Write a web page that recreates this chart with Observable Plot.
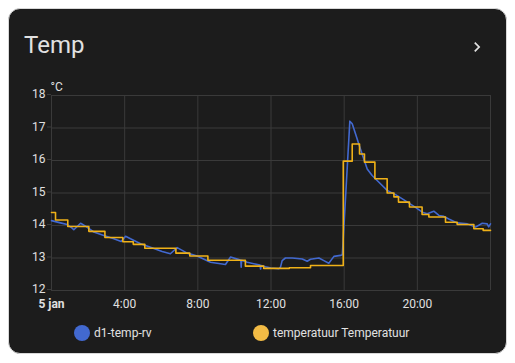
<!DOCTYPE html>
<html>
<head>
<meta charset="utf-8">
<script src="https://cdn.jsdelivr.net/npm/d3@7"></script>
<script src="https://cdn.jsdelivr.net/npm/@observablehq/plot@0.6"></script>
<style>
  html, body { margin: 0; padding: 0; background: #ffffff; width: 515px; height: 363px; overflow: hidden; font-family: Roboto, "Noto Sans", sans-serif; }
  #card { position: absolute; left: 8px; top: 8px; width: 499px; height: 346px; box-sizing: border-box; background: #1c1c1c; border: 1px solid #d8d8d8; border-radius: 12px; }
  #title { position: absolute; left: 24px; top: 33px; font-size: 24px; line-height: 24px; color: #e1e1e1; font-weight: 400; }
  #chev { position: absolute; left: 467px; top: 37px; width: 20px; height: 20px; }
  #chart { position: absolute; left: 8px; top: 70px; }
  .leg { position: absolute; top: 325px; display: flex; align-items: center; font-size: 12px; color: #e1e1e1; }
  .dot { width: 16px; height: 16px; border-radius: 50%; margin-right: 4px; }
</style>
</head>
<body>
<div id="card"></div>
<div id="title">Temp</div>
<svg id="chev" viewBox="0 0 24 24"><path fill="#e1e1e1" d="M8.59,16.58L13.17,12L8.59,7.41L10,6L16,12L10,18L8.59,16.58Z"/></svg>
<div id="chart"></div>
<div id="legend"></div>
<script>
// ---- data ----
const seriesNames = ["d1-temp-rv", "temperatuur Temperatuur"];
const seriesColors = ["#4269d0", "#efb118"];
const legendColors = ["#4269d0", "#f2bb45"];

const blueHours = [0, 0.49, 0.86, 1.13, 1.22, 1.59, 1.86, 2.31, 2.86, 3.41, 3.81, 4.05, 4.32, 4.87, 5.41, 6.05, 6.5, 6.87, 7.42, 7.96, 8.69, 9.51, 9.79, 10.24, 10.35, 10.37, 10.39, 10.7, 11.4, 11.43, 11.46, 11.7, 12.0, 12.43, 12.52, 12.61, 12.79, 13.16, 13.71, 13.98, 14.16, 14.62, 14.89, 15.16, 15.44, 15.8, 15.9, 16.31, 16.44, 16.62, 16.8, 16.98, 17.26, 17.53, 17.9, 18.35, 18.81, 19.27, 19.9, 20.27, 20.54, 20.9, 21.18, 21.45, 21.72, 22.18, 22.73, 23.18, 23.55, 23.82, 23.9, 24];
const blueTemps = [14.15, 14.08, 14.03, 13.92, 13.87, 14.07, 13.98, 13.8, 13.69, 13.59, 13.51, 13.67, 13.59, 13.44, 13.33, 13.2, 13.13, 13.32, 13.15, 13.06, 12.87, 12.8, 13.03, 12.95, 12.93, 12.72, 12.93, 12.87, 12.78, 12.66, 12.77, 12.73, 12.69, 12.67, 12.72, 12.92, 13.0, 13.0, 12.97, 12.9, 12.96, 13.0, 12.92, 12.84, 13.05, 13.08, 13.1, 17.21, 17.13, 16.82, 16.51, 16.2, 15.74, 15.54, 15.33, 15.08, 14.95, 14.79, 14.56, 14.41, 14.36, 14.44, 14.31, 14.28, 14.2, 14.08, 14.05, 13.95, 14.07, 14.05, 13.96, 14.05];

const yellowHours = [0, 0.22, 0.89, 2.04, 2.92, 3.9, 4.47, 5.1, 6.8, 7.56, 8.55, 10.6, 11.6, 13.0, 14.16, 15.95, 16.44, 16.84, 17.11, 17.68, 18.35, 18.72, 18.97, 19.57, 20.26, 20.63, 21.54, 22.18, 23.09, 23.6, 24];
const yellowTemps = [14.4, 14.17, 13.97, 13.82, 13.63, 13.5, 13.42, 13.3, 13.15, 13.06, 12.93, 12.75, 12.68, 12.7, 12.77, 15.98, 16.51, 16.2, 15.95, 15.44, 15.0, 14.88, 14.72, 14.57, 14.34, 14.26, 14.1, 14.03, 13.9, 13.85, 13.85];

const xTicks = [0, 4, 8, 12, 16, 20];
const xTickLabels = ["5 jan", "4:00", "8:00", "12:00", "16:00", "20:00"];
const xGrid = [0, 4, 8, 12, 16, 20, 24];
const yTicks = [12, 13, 14, 15, 16, 17, 18];
const yUnit = "°C";

// ---- build ----
const blue = blueHours.map((h, i) => ({h, t: blueTemps[i]}));
const yellow = yellowHours.map((h, i) => ({h, t: yellowTemps[i]}));
const gridColor = "#3a3a3a";
const textColor = "#e0e0e0";

const chart = Plot.plot({
  width: 499,
  height: 250,
  marginLeft: 43,
  marginRight: 17,
  marginTop: 25,
  marginBottom: 30,
  style: {background: "transparent", color: textColor, fontFamily: "Roboto, sans-serif", fontSize: "12px"},
  x: {domain: [0, 24]},
  y: {domain: [12, 18]},
  marks: [
    Plot.gridX(xGrid, {stroke: gridColor, strokeOpacity: 1}),
    Plot.gridY(yTicks, {stroke: gridColor, strokeOpacity: 1}),
    Plot.axisX(xTicks, {tickSize: 0, tickPadding: 9, label: null, fill: textColor, tickFormat: d => xTickLabels[xTicks.indexOf(d)]}),
    Plot.axisY(yTicks, {tickSize: 4, tickPadding: 2, label: null, stroke: gridColor, fill: textColor, dy: -1}),
    Plot.line(blue, {x: "h", y: "t", stroke: seriesColors[0], strokeWidth: 1.6}),
    Plot.line(yellow, {x: "h", y: "t", stroke: seriesColors[1], strokeWidth: 1.6, curve: "step-after"}),
    Plot.text([yUnit], {frameAnchor: "top-left", text: d => d, dx: -1, dy: -13, textAnchor: "start", fill: textColor, fontSize: 12})
  ]
});
document.getElementById("chart").appendChild(chart);

d3.select(chart).selectAll("[aria-label='x-axis tick label'] text")
  .filter(function() { return this.textContent === xTickLabels[0]; })
  .attr("font-weight", "bold");

// legend
const legendLefts = [74, 253];
const legend = document.getElementById("legend");
seriesNames.forEach((name, i) => {
  const item = document.createElement("div");
  item.className = "leg";
  item.style.left = legendLefts[i] + "px";
  const dot = document.createElement("div");
  dot.className = "dot";
  dot.style.background = legendColors[i];
  const label = document.createElement("span");
  label.textContent = name;
  item.appendChild(dot);
  item.appendChild(label);
  legend.appendChild(item);
});
</script>
</body>
</html>
